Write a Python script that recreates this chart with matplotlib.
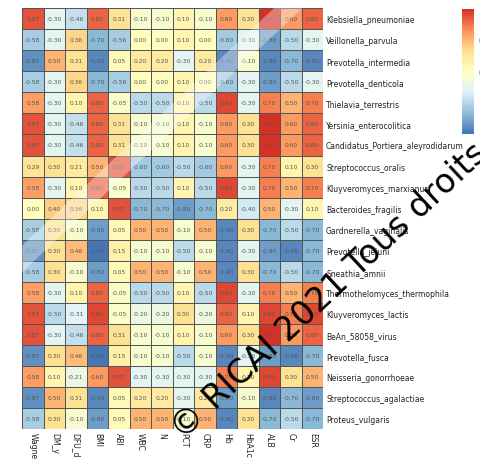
import numpy as np
import matplotlib.pyplot as plt
from matplotlib.colors import LinearSegmentedColormap
from matplotlib.lines import Line2D

species = [
    "Klebsiella_pneumoniae", "Veillonella_parvula", "Prevotella_intermedia",
    "Prevotella_denticola", "Thielavia_terrestris", "Yersinia_enterocolitica",
    "Candidatus_Portiera_aleyrodidarum", "Streptococcus_oralis",
    "Kluyveromyces_marxianus", "Bacteroides_fragilis", "Gardnerella_vaginalis",
    "Prevotella_jejuni", "Sneathia_amnii", "Thermothelomyces_thermophila",
    "Kluyveromyces_lactis", "BeAn_58058_virus", "Prevotella_fusca",
    "Neisseria_gonorrhoeae", "Streptococcus_agalactiae", "Proteus_vulgaris",
]
clinical = ["Wagner", "DM_y", "DFU_d", "BMI", "ABI", "WBC", "N", "PCT",
            "CRP", "Hb", "HbA1c", "ALB", "Cr", "ESR"]

klebsiella = [0.87, -0.30, -0.46, 0.80, 0.31, -0.10, -0.10, 0.10, -0.10, 0.60, 0.30, 1.00, 0.60, 0.80]
veillonella = [-0.58, -0.30, 0.36, -0.70, -0.56, 0.00, 0.00, 0.10, 0.00, -0.60, -0.30, -0.80, -0.50, -0.30]
p_intermedia = [-0.87, 0.50, 0.31, -0.90, 0.05, 0.20, 0.20, -0.30, 0.20, -0.90, -0.10, -0.90, -0.70, -0.90]
p_denticola = [-0.58, -0.30, 0.36, -0.70, -0.56, 0.00, 0.00, 0.10, 0.00, -0.60, -0.30, -0.80, -0.50, -0.30]
thielavia = [0.58, -0.30, 0.10, 0.80, -0.05, -0.50, -0.50, 0.10, -0.50, 0.90, -0.30, 0.70, 0.50, 0.70]
yersinia = [0.87, -0.30, -0.46, 0.80, 0.31, -0.10, -0.10, 0.10, -0.10, 0.60, 0.30, 1.00, 0.60, 0.80]
portiera = [0.87, -0.30, -0.46, 0.80, 0.31, -0.10, -0.10, 0.10, -0.10, 0.60, 0.30, 1.00, 0.60, 0.80]
s_oralis = [0.29, 0.30, 0.21, 0.50, 0.87, -0.60, -0.60, -0.50, -0.60, 0.60, -0.30, 0.70, 0.10, 0.30]
k_marxianus = [0.58, -0.30, 0.10, 0.80, -0.05, -0.50, -0.50, 0.10, -0.50, 0.90, -0.30, 0.70, 0.50, 0.70]
bacteroides = [0.00, 0.40, 0.36, 0.10, 0.87, -0.70, -0.70, -0.80, -0.70, 0.20, -0.40, 0.50, -0.30, 0.10]
gardnerella = [-0.58, 0.30, -0.10, -0.80, 0.05, 0.50, 0.50, -0.10, 0.50, -0.90, 0.30, -0.70, -0.50, -0.70]
p_jejuni = [-0.87, 0.30, 0.46, -1.00, 0.15, -0.10, -0.10, -0.50, -0.10, -0.90, -0.30, -0.80, -0.90, -0.70]
sneathia = [-0.58, 0.30, -0.10, -0.80, 0.05, 0.50, 0.50, -0.10, 0.50, -0.90, 0.30, -0.70, -0.50, -0.70]
thermothelomyces = [0.58, -0.30, 0.10, 0.80, -0.05, -0.50, -0.50, 0.10, -0.50, 0.90, -0.30, 0.70, 0.50, 0.70]
k_lactis = [0.87, -0.50, -0.31, 0.90, -0.05, -0.20, -0.20, 0.30, -0.20, 0.80, 0.10, 0.90, 0.70, 0.90]
bean_virus = [0.87, -0.30, -0.46, 0.80, 0.31, -0.10, -0.10, 0.10, -0.10, 0.60, 0.30, 1.00, 0.60, 0.80]
p_fusca = [-0.87, 0.30, 0.46, -1.00, 0.15, -0.10, -0.10, -0.50, -0.10, -0.90, -0.30, -0.80, -0.90, -0.70]
neisseria = [0.58, 0.10, -0.21, 0.60, 0.87, -0.30, -0.30, -0.30, -0.30, 0.70, 0.10, 0.90, 0.30, 0.50]
s_agalactiae = [-0.87, 0.50, 0.31, -0.90, 0.05, 0.20, 0.20, -0.30, 0.20, -0.80, -0.10, -0.90, -0.70, -0.80]
proteus = [-0.58, 0.30, -0.10, -0.80, 0.05, 0.50, 0.50, -0.10, 0.50, -0.90, 0.30, -0.70, -0.50, -0.70]

corr = np.array([
    klebsiella, veillonella, p_intermedia, p_denticola, thielavia, yersinia,
    portiera, s_oralis, k_marxianus, bacteroides, gardnerella, p_jejuni,
    sneathia, thermothelomyces, k_lactis, bean_virus, p_fusca, neisseria,
    s_agalactiae, proteus,
])

# pheatmap-like palette (reversed RdYlBu, 7 colours)
palette = ["#4575B4", "#91BFDB", "#E0F3F8", "#FFFFBF", "#FEE090", "#FC8D59", "#D73027"]
cmap = LinearSegmentedColormap.from_list("rdylbu7", palette, N=100)

fig = plt.figure(figsize=(4.81, 4.60), dpi=100)
ax = fig.add_axes([0.046, 0.065, 0.626, 0.915])

n_rows, n_cols = corr.shape
mesh = ax.pcolormesh(corr, cmap=cmap, vmin=-1, vmax=1,
                     edgecolors="#555555", linewidth=0.5)
ax.set_xlim(0, n_cols)
ax.set_ylim(n_rows, 0)

for i in range(n_rows):
    for j in range(n_cols):
        ax.text(j + 0.5, i + 0.5, f"{corr[i, j]:.2f}", ha="center", va="center",
                fontsize=4.3, color="#555555")

ax.yaxis.tick_right()
ax.set_yticks(np.arange(n_rows) + 0.5)
ax.set_yticklabels(species, fontsize=5.5, color="#222222")
ax.set_xticks(np.arange(n_cols) + 0.5)
ax.set_xticklabels(clinical, rotation=270, fontsize=5.5, color="#222222")
ax.tick_params(length=0, pad=2)
for spine in ax.spines.values():
    spine.set_visible(False)

cax = fig.add_axes([0.960, 0.707, 0.025, 0.272])
cb = fig.colorbar(mesh, cax=cax)
cb.set_ticks([-0.5, 0, 0.5, 1])
cb.ax.tick_params(labelsize=5.5, length=0, colors="#555555")
cb.outline.set_visible(False)

# watermark of the source image
fig.add_artist(Line2D([0.0, 0.66], [0.39, 1.04], transform=fig.transFigure,
                     color="white", alpha=0.35, linewidth=14))
fig.text(0.39, 0.03, "© RICAI 2021 Tous droits", rotation=43,
         rotation_mode="anchor", fontsize=24, color="black",
         ha="left", va="bottom")

fig.savefig("out.png", dpi=100)
